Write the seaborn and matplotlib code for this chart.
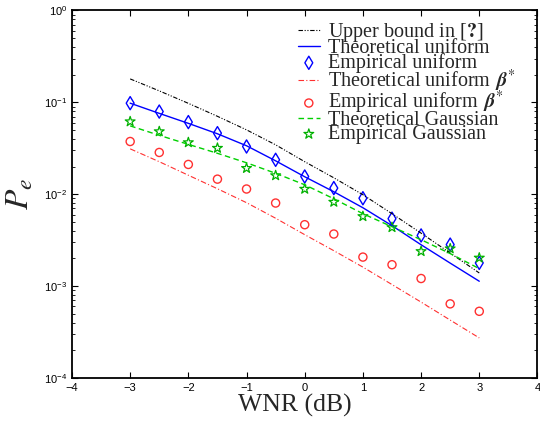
import numpy as np
import pandas as pd
import seaborn as sns
import matplotlib
matplotlib.use('Agg')
import matplotlib.pyplot as plt
from matplotlib.ticker import LogLocator, NullFormatter

# WNR (dB)
wnr = [-3, -2.5, -2, -1.5, -1, -0.5, 0, 0.5, 1, 1.5, 2, 2.5, 3]

upper_bound = [0.180, 0.1334, 0.0976, 0.0705, 0.0502, 0.0345, 0.0226,
               0.0151, 0.00988, 0.00614, 0.00377, 0.00229, 0.00139]
theo_uniform = [0.098, 0.0759, 0.0591, 0.0455, 0.0337, 0.0231, 0.0155,
                0.01064, 0.00713, 0.00455, 0.00282, 0.00178, 0.00113]
emp_uniform = [0.098, 0.0794, 0.061, 0.0462, 0.0331, 0.0237, 0.0156,
               0.01167, 0.00905, 0.00542, 0.00356, 0.00283, 0.00179]
theo_beta = [0.0312, 0.0226, 0.0161, 0.01148, 0.00809, 0.00548, 0.00363,
             0.00243, 0.00161, 0.00104, 0.00067, 0.000427, 0.000273]
emp_beta = [0.0375, 0.0285, 0.0211, 0.0146, 0.0114, 0.00802, 0.00466,
            0.00369, 0.00207, 0.00171, 0.00121, 0.000641, 0.000532]
theo_gauss = [0.0555, 0.0438, 0.0349, 0.0279, 0.0220, 0.0169, 0.01268,
              0.00893, 0.00614, 0.00443, 0.00320, 0.00226, 0.00155]
emp_gauss = [0.0618, 0.0482, 0.0366, 0.0318, 0.0192, 0.0160, 0.0114,
             0.00823, 0.00574, 0.00436, 0.00239, 0.00256, 0.00203]

sns.set_style('ticks')
plt.rcParams['mathtext.fontset'] = 'stix'

fig = plt.figure(figsize=(5.4, 4.23), dpi=100)
ax = fig.add_axes([0.1333, 0.1064, 0.862, 0.8688])

blue = '#0000ff'
red = '#ff3030'
green = '#00d000'

sns.lineplot(x=wnr, y=upper_bound, ax=ax, color='black', lw=0.8,
             label=r'Upper bound in [$\mathbf{?}$]')
ax.lines[-1].set_dashes((4, 1.5, 1, 1.5, 1, 1.5))
sns.lineplot(x=wnr, y=theo_uniform, ax=ax, color=blue, lw=1.0,
             label='Theoretical uniform')
sns.scatterplot(x=wnr, y=emp_uniform, ax=ax, marker='d', s=45,
                facecolor='none', edgecolor=blue, linewidth=1.0,
                label='Empirical uniform')
sns.lineplot(x=wnr, y=theo_beta, ax=ax, color=red, lw=0.8,
             label=r'Theoretical uniform $\,\mathbfit{\beta}^{*}$')
ax.lines[-1].set_dashes((5, 2, 1, 2))
sns.scatterplot(x=wnr, y=emp_beta, ax=ax, marker='o', s=34,
                facecolor='none', edgecolor=red, linewidth=1.0,
                label=r'Empirical uniform $\,\mathbfit{\beta}^{*}$')
sns.lineplot(x=wnr, y=theo_gauss, ax=ax, color=green, lw=1.0,
             label='Theoretical Gaussian')
ax.lines[-1].set_dashes((4, 2.5))
sns.scatterplot(x=wnr, y=emp_gauss, ax=ax, marker='*', s=55,
                facecolor='none', edgecolor='#00b000', linewidth=0.9,
                label='Empirical Gaussian')

ax.set_yscale('log')
ax.set_xlim(-4, 4)
ax.set_ylim(1e-4, 1)
ax.set_xticks(range(-4, 5))
ax.yaxis.set_major_locator(LogLocator(base=10, numticks=10))
ax.yaxis.set_minor_locator(LogLocator(base=10, subs=np.arange(2, 10), numticks=10))
ax.yaxis.set_minor_formatter(NullFormatter())

for s in ax.spines.values():
    s.set_visible(True)
    s.set_linewidth(1.3)
    s.set_color('black')
ax.tick_params(which='both', direction='in', top=True, right=True,
               labelsize=8, colors='black')
ax.tick_params(which='major', length=4, width=0.8)
ax.tick_params(which='minor', length=2, width=0.6)
for lab in ax.get_xticklabels() + ax.get_yticklabels():
    lab.set_family('Liberation Sans')

ax.set_xlabel('WNR (dB)', family='Liberation Serif', fontsize=18.5, labelpad=1)
ax.xaxis.label.set_x(0.479)
ax.set_ylabel(r'$P_e$', fontsize=24, labelpad=6)

leg = ax.legend(loc='upper left', bbox_to_anchor=(0.485, 0.971), frameon=False,
                prop={'family': 'Liberation Serif', 'size': 14.5},
                handlelength=1.1, handletextpad=0.4, labelspacing=-0.25,
                borderaxespad=0, borderpad=0)

fig.savefig('out.png', dpi=100)
